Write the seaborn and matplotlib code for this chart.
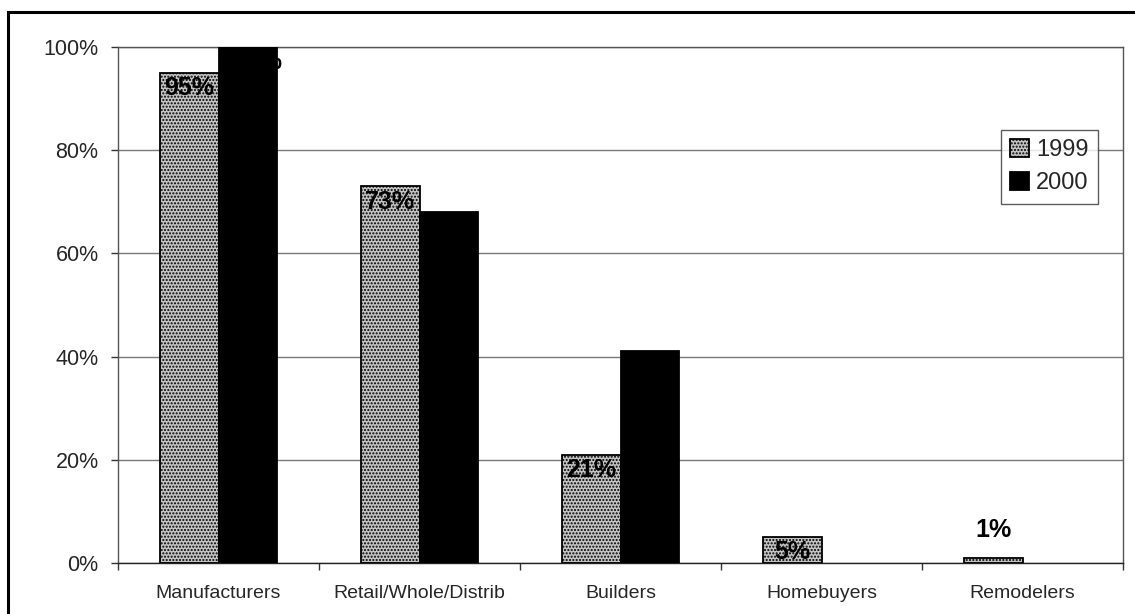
import numpy as np
import pandas as pd
import matplotlib
matplotlib.use("Agg")
import matplotlib.pyplot as plt
from matplotlib.ticker import FixedLocator, FuncFormatter
from matplotlib.patches import Rectangle
import seaborn as sns

categories = ["Manufacturers", "Retail/Whole/Distrib", "Builders", "Homebuyers", "Remodelers"]
years = ["1999", "2000"]
pct_1999 = [95, 73, 21, 5, 1]
pct_2000 = [100, 68, 41, 0, 0]
y_ticks = [0, 20, 40, 60, 80, 100]

df = pd.DataFrame({
    "segment": categories * 2,
    "year": [years[0]] * len(categories) + [years[1]] * len(categories),
    "share": pct_1999 + pct_2000,
})

sns.set_theme(style="white")
plt.rcParams["font.family"] = ["Liberation Sans", "DejaVu Sans"]

fig = plt.figure(figsize=(11.35, 6.14), dpi=100)
ax = fig.add_axes([118 / 1135, 51 / 614, (1123 - 118) / 1135, (563 - 47) / 614])

palette = {"1999": "#c4c4c4", "2000": "#000000"}
sns.barplot(data=df, x="segment", y="share", hue="year", order=categories,
            hue_order=years, palette=palette, saturation=1, width=0.58,
            edgecolor="black", linewidth=1.3, ax=ax, zorder=3)

# stippled fill for the 1999 series; empty bars get no outline
n = len(categories)
for p in ax.patches[:n]:
    p.set_hatch(".....")
for p in ax.patches[:2 * n]:
    if p.get_height() == 0:
        p.set_linewidth(0)

ax.set_ylim(0, 100)
ax.set_xlim(-0.5, n - 0.5)
ax.yaxis.set_major_locator(FixedLocator(y_ticks))
ax.yaxis.set_major_formatter(FuncFormatter(lambda v, _: f"{v:.0f}%"))
ax.grid(axis="y", color="#7a7a7a", linewidth=1.0, zorder=0)
ax.set_xlabel("")
ax.set_ylabel("")

for s in ax.spines.values():
    s.set_color("#555555")
    s.set_linewidth(1.0)
ax.spines["bottom"].set_color("#222222")

ax.tick_params(axis="y", which="major", left=True, length=5, width=1, color="#333333",
               labelsize=15.5, pad=9, direction="out")
ax.tick_params(axis="x", which="major", bottom=False, labelsize=14, pad=10)
ax.set_xticks(range(n))
ax.set_xticklabels(categories)
ax.xaxis.set_minor_locator(FixedLocator(np.arange(-0.5, n, 1.0)))
ax.tick_params(axis="x", which="minor", bottom=True, length=5, width=1, color="#333333",
               direction="out")

# value labels
for i, p in enumerate(ax.patches[:n]):
    v = pct_1999[i]
    x = p.get_x() + p.get_width() / 2
    off = 20 if v < 3 else -11
    ax.annotate(f"{v}%", (x, v), xytext=(0, off), textcoords="offset points",
                ha="center", va="center", fontsize=18, fontweight="bold",
                color="black", zorder=5, annotation_clip=False)
for i, p in enumerate(ax.patches[n:2 * n]):
    v = pct_2000[i]
    if v == 0:
        continue
    x = p.get_x() + p.get_width() / 2
    ax.annotate(f"{v}%", (x, v), xytext=(2, -11), textcoords="offset points",
                ha="center", va="center", fontsize=18, fontweight="bold",
                color="black", zorder=5, annotation_clip=False)

leg = ax.legend(loc="upper right", bbox_to_anchor=(0.975, 0.84), fontsize=17,
                frameon=True, fancybox=False, edgecolor="#333333",
                handlelength=0.8, handleheight=0.8, handletextpad=0.3,
                borderpad=0.4, labelspacing=0.45, borderaxespad=0)
leg.get_frame().set_linewidth(1.0)
for h in leg.legend_handles[:1]:
    h.set_hatch(".....")

# outer chart frame
fig.add_artist(Rectangle((8 / 1135, -0.05), 1.2, (614 - 12) / 614 + 0.05,
                         transform=fig.transFigure, fill=False,
                         edgecolor="black", linewidth=2.2))

fig.savefig("out.png", dpi=100)
